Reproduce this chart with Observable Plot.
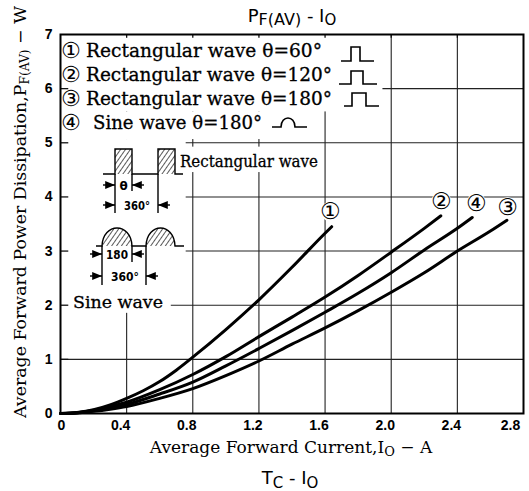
<!DOCTYPE html>
<html>
<head>
<meta charset="utf-8">
<script src="https://cdn.jsdelivr.net/npm/d3@7"></script>
<script src="https://cdn.jsdelivr.net/npm/@observablehq/plot@0.6"></script>
<style>
  html, body { margin: 0; padding: 0; background: #fff; }
  #chart { width: 529px; height: 491px; overflow: hidden; }
</style>
</head>
<body>
<div id="chart"></div>
<script>
// ---- data ----
const xTicks = [0, 0.4, 0.8, 1.2, 1.6, 2.0, 2.4, 2.8];
const yTicks = [0, 1, 2, 3, 4, 5, 6, 7];

// (1) Rectangular wave θ=60°
const current1 = [0, 0.1, 0.2, 0.3, 0.4, 0.5, 0.6, 0.7, 0.8, 1.0, 1.2, 1.4, 1.6, 1.64];
const power1   = [0, 0.02, 0.07, 0.16, 0.28, 0.42, 0.59, 0.8, 1.04, 1.55, 2.1, 2.7, 3.33, 3.45];
// (2) Rectangular wave θ=120°
const current2 = [0, 0.1, 0.2, 0.3, 0.4, 0.6, 0.8, 1.0, 1.2, 1.4, 1.6, 1.8, 2.0, 2.2, 2.3];
const power2   = [0, 0.015, 0.06, 0.13, 0.21, 0.44, 0.72, 1.05, 1.42, 1.78, 2.15, 2.55, 2.98, 3.42, 3.65];
// (3) Rectangular wave θ=180°
const current3 = [0, 0.1, 0.2, 0.3, 0.4, 0.6, 0.8, 1.0, 1.2, 1.4, 1.6, 1.8, 2.0, 2.2, 2.4, 2.6, 2.7];
const power3   = [0, 0.01, 0.04, 0.08, 0.13, 0.28, 0.46, 0.7, 0.97, 1.28, 1.58, 1.9, 2.24, 2.6, 3.0, 3.37, 3.57];
// (4) Sine wave θ=180°
const current4 = [0, 0.1, 0.2, 0.3, 0.4, 0.6, 0.8, 1.0, 1.2, 1.4, 1.6, 1.8, 2.0, 2.2, 2.4, 2.49];
const power4   = [0, 0.012, 0.05, 0.11, 0.17, 0.36, 0.58, 0.88, 1.2, 1.53, 1.87, 2.22, 2.6, 3.02, 3.42, 3.62];

const seriesNames = ["①", "②", "③", "④"];
const legendTexts = ["Rectangular wave θ=60°", "Rectangular wave θ=120°", "Rectangular wave θ=180°", "Sine wave θ=180°"];

// ---- build table ----
const seriesX = [current1, current2, current3, current4];
const seriesY = [power1, power2, power3, power4];
const rows = [];
seriesNames.forEach((s, i) => seriesX[i].forEach((x, j) => rows.push({series: s, x, y: seriesY[i][j]})));

// curve end labels (data coordinates)
const curveLabels = [
  {t: "①", x: 1.632, y: 3.73},
  {t: "②", x: 2.303, y: 3.92},
  {t: "④", x: 2.515, y: 3.88},
  {t: "③", x: 2.703, y: 3.81}
];

// areas where the grid is hidden behind the legend and the insets (data coordinates)
const masks = [
  {x1: 0, x2: 1.95, y1: 5.57, y2: 7},
  {x1: 0, x2: 1.45, y1: 5.06, y2: 5.57},
  {x1: 0, x2: 0.76, y1: 2.27, y2: 5.06},
  {x1: 0.72, x2: 1.56, y1: 4.45, y2: 4.92},
  {x1: 0, x2: 0.67, y1: 1.85, y2: 2.27}
];

const inner = xTicks.slice(1, -1);
const innerY = yTicks.slice(1, -1);
const fmtX = d => d === 0 ? "0" : d.toFixed(1);
const axisOpts = {tickSize: 0, tickPadding: 7, fontSize: 14, fontWeight: "bold", tickFormat: fmtX, label: null};

const plot = Plot.plot({
  width: 529,
  height: 491,
  marginLeft: 60,
  marginRight: 6,
  marginTop: 34,
  marginBottom: 78,
  x: {domain: [0, 2.8]},
  y: {domain: [0, 7]},
  style: {fontFamily: "'Liberation Sans', Arial, sans-serif", background: "white", color: "black"},
  marks: [
    Plot.ruleX(inner, {stroke: "#222", strokeWidth: 1.1}),
    Plot.ruleY(innerY, {stroke: "#222", strokeWidth: 1.1}),
    Plot.rect(masks, {x1: "x1", x2: "x2", y1: "y1", y2: "y2", fill: "white"}),
    Plot.ruleX(inner, {y1: 7, y2: 6.93, stroke: "#111", strokeWidth: 1.3}),
    Plot.ruleY(innerY, {x1: 0, x2: 0.05, stroke: "#111", strokeWidth: 1.3}),
    Plot.frame({stroke: "black", strokeWidth: 2}),
    Plot.line(rows, {x: "x", y: "y", z: "series", curve: "monotone-x", stroke: "black", strokeWidth: 3}),
    Plot.dot(curveLabels, {x: "x", y: "y", r: 10, fill: "white", stroke: null}),
    Plot.text(curveLabels, {x: "x", y: "y", text: "t", fontSize: 23, fontFamily: "DejaVu Sans", fill: "black"}),
    Plot.axisX(xTicks.slice(0, 1), {...axisOpts, dx: 1}),
    Plot.axisX(xTicks.slice(1, -1), {...axisOpts, dx: -6}),
    Plot.axisX(xTicks.slice(-1), {...axisOpts, dx: -13}),
    Plot.axisY({ticks: yTicks, tickSize: 0, tickPadding: 8, fontSize: 14, fontWeight: "bold",
                tickFormat: d => String(d), label: null})
  ]
});

document.getElementById("chart").appendChild(plot);

// ---- annotations: titles, legend, inset diagrams ----
const svg = d3.select(plot);
const serif = "'DejaVu Serif', 'Liberation Serif', serif";
const sans = "'DejaVu Sans', sans-serif";

const defs = svg.append("defs");
defs.append("pattern").attr("id", "hatch").attr("patternUnits", "userSpaceOnUse")
  .attr("width", 4).attr("height", 4).attr("patternTransform", "rotate(35)")
  .append("line").attr("x1", 0).attr("y1", 0).attr("x2", 0).attr("y2", 4)
  .attr("stroke", "black").attr("stroke-width", 1.3);
defs.append("marker").attr("id", "arr").attr("viewBox", "0 0 10 10").attr("refX", 10).attr("refY", 5)
  .attr("markerWidth", 7).attr("markerHeight", 7).attr("orient", "auto-start-reverse")
  .append("path").attr("d", "M0,1 L10,5 L0,9 z").attr("fill", "black");

const g = svg.append("g").attr("text-anchor", "start").attr("fill", "black");

// title
const title = g.append("text").attr("x", 292).attr("y", 22).attr("text-anchor", "middle")
  .attr("font-family", sans).attr("font-size", 18);
title.append("tspan").text("P");
title.append("tspan").attr("font-size", 16).attr("dy", 3).text("F(AV)");
title.append("tspan").attr("dy", -3).text(" - I");
title.append("tspan").attr("font-size", 15).attr("dy", 3).text("O");

// y axis label
const yl = g.append("text").attr("transform", "translate(26,212) rotate(-90)").attr("text-anchor", "middle")
  .attr("font-family", serif).attr("font-size", 17).attr("textLength", 412).attr("lengthAdjust", "spacingAndGlyphs");
yl.append("tspan").text("Average Forward Power Dissipation,P");
yl.append("tspan").attr("font-size", 12).attr("dy", 3).text("F(AV)");
yl.append("tspan").attr("dy", -3).text(" − W");

// x axis label
const xl = g.append("text").attr("x", 291).attr("y", 453).attr("text-anchor", "middle")
  .attr("font-family", serif).attr("font-size", 17);
xl.append("tspan").text("Average Forward Current,I");
xl.append("tspan").attr("font-size", 13).attr("dy", 3).text("O");
xl.append("tspan").attr("dy", -3).text(" − A");

// next chart's title (cut at the bottom)
const t2 = g.append("text").attr("x", 290).attr("y", 484).attr("text-anchor", "middle")
  .attr("font-family", sans).attr("font-size", 18);
t2.append("tspan").text("T");
t2.append("tspan").attr("font-size", 15).attr("dy", 4).text("C");
t2.append("tspan").attr("dy", -4).text(" - I");
t2.append("tspan").attr("font-size", 15).attr("dy", 4).text("O");
g.append("text").attr("x", 28).attr("y", 500).attr("font-family", sans).attr("font-weight", "bold")
  .attr("font-size", 13).text("120");

// legend
const legendBase = [57, 81, 105, 129];
const legendEnd = [322, 332, 332, 262];
seriesNames.forEach((s, i) => {
  g.append("text").attr("x", 61).attr("y", legendBase[i] + 1).attr("font-family", sans)
    .attr("font-size", 22).text(s);
  const start = i === 3 ? 93 : 86;
  g.append("text").attr("x", start).attr("y", legendBase[i]).attr("font-family", serif)
    .attr("font-size", 18).attr("textLength", legendEnd[i] - start).attr("lengthAdjust", "spacingAndGlyphs")
    .attr("stroke", "black").attr("stroke-width", 0.3)
    .text(legendTexts[i]);
});
// small waveform icons
const pulse = (x0, x1, x2, x3, base, h) =>
  `M${x0},${base} H${x1} V${base - h} H${x2} V${base} H${x3}`;
const icons = g.append("g").attr("fill", "none").attr("stroke", "black").attr("stroke-width", 1.6);
icons.append("path").attr("d", pulse(341, 351, 360, 374, 61, 14));
icons.append("path").attr("d", pulse(339, 351, 363, 377, 84, 13));
icons.append("path").attr("d", pulse(344, 352, 366, 379, 106, 13));
icons.append("path").attr("d", "M272,127 H281 C281,115 295,115 295,127 H307");

// inset: rectangular wave
const ins = g.append("g").attr("stroke", "black").attr("fill", "none").attr("stroke-width", 1.4);
ins.append("path").attr("d", "M103,174 H115 V149 H132 V174 H158 V149 H175 V174 H183");
ins.append("rect").attr("x", 115).attr("y", 149).attr("width", 17).attr("height", 25).attr("fill", "url(#hatch)").attr("stroke", "none");
ins.append("rect").attr("x", 158).attr("y", 149).attr("width", 17).attr("height", 25).attr("fill", "url(#hatch)").attr("stroke", "none");
ins.append("path").attr("d", "M115,174 V213 M132,174 V191 M158,174 V213");
ins.append("line").attr("x1", 103).attr("y1", 185).attr("x2", 115).attr("y2", 185).attr("marker-end", "url(#arr)");
ins.append("line").attr("x1", 144).attr("y1", 185).attr("x2", 132).attr("y2", 185).attr("marker-end", "url(#arr)");
ins.append("line").attr("x1", 103).attr("y1", 205).attr("x2", 115).attr("y2", 205).attr("marker-end", "url(#arr)");
ins.append("line").attr("x1", 170).attr("y1", 205).attr("x2", 158).attr("y2", 205).attr("marker-end", "url(#arr)");
g.append("text").attr("x", 123.5).attr("y", 190).attr("text-anchor", "middle").attr("font-family", sans)
  .attr("font-weight", "bold").attr("font-size", 12).text("θ");
g.append("text").attr("x", 137).attr("y", 210).attr("text-anchor", "middle").attr("font-family", sans)
  .attr("font-weight", "bold").attr("font-size", 13).attr("textLength", 26).attr("lengthAdjust", "spacingAndGlyphs").text("360°");
g.append("text").attr("x", 180).attr("y", 167).attr("font-family", serif).attr("font-size", 17)
  .attr("stroke", "black").attr("stroke-width", 0.3)
  .attr("textLength", 138).attr("lengthAdjust", "spacingAndGlyphs").text("Rectangular wave");

// inset: sine wave
const hump = (a, b) => `M${a},246 C${a + 1},222 ${b - 1},222 ${b},246`;
ins.append("path").attr("d", hump(102, 132) + " Z").attr("fill", "url(#hatch)").attr("stroke", "none");
ins.append("path").attr("d", hump(146, 175) + " Z").attr("fill", "url(#hatch)").attr("stroke", "none");
ins.append("path").attr("d", `M96,246 H102 C103,222 131,222 132,246 H146 C147,222 174,222 175,246 H184`);
ins.append("path").attr("d", "M102,246 V285 M132,246 V262 M146,246 V285");
ins.append("line").attr("x1", 90).attr("y1", 254).attr("x2", 102).attr("y2", 254).attr("marker-end", "url(#arr)");
ins.append("line").attr("x1", 144).attr("y1", 254).attr("x2", 132).attr("y2", 254).attr("marker-end", "url(#arr)");
ins.append("line").attr("x1", 90).attr("y1", 276).attr("x2", 102).attr("y2", 276).attr("marker-end", "url(#arr)");
ins.append("line").attr("x1", 158).attr("y1", 276).attr("x2", 146).attr("y2", 276).attr("marker-end", "url(#arr)");
g.append("text").attr("x", 117).attr("y", 259).attr("text-anchor", "middle").attr("font-family", sans)
  .attr("font-weight", "bold").attr("font-size", 13).attr("textLength", 22).attr("lengthAdjust", "spacingAndGlyphs").text("180");
g.append("text").attr("x", 125).attr("y", 281).attr("text-anchor", "middle").attr("font-family", sans)
  .attr("font-weight", "bold").attr("font-size", 13).attr("textLength", 28).attr("lengthAdjust", "spacingAndGlyphs").text("360°");
g.append("text").attr("x", 73).attr("y", 308).attr("font-family", serif).attr("font-size", 17)
  .attr("stroke", "black").attr("stroke-width", 0.3)
  .attr("textLength", 90).attr("lengthAdjust", "spacingAndGlyphs").text("Sine wave");
</script>
</body>
</html>
